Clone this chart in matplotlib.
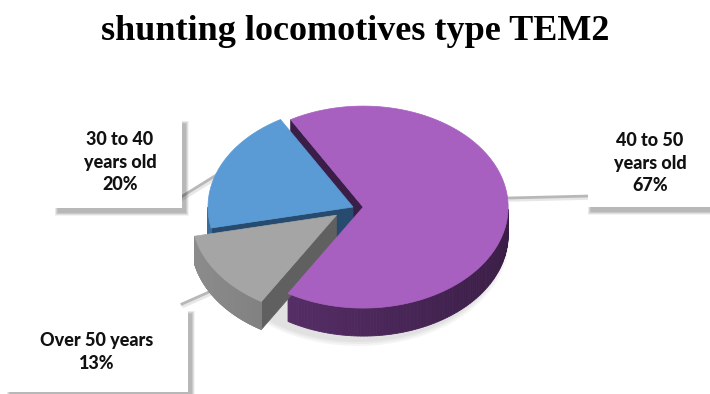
import numpy as np
import matplotlib
matplotlib.use("Agg")
import matplotlib.pyplot as plt
from matplotlib.patches import Polygon, Rectangle
from matplotlib.colors import to_rgb

# ---- data ----
categories = ["30 to 40\nyears old", "40 to 50\nyears old", "Over 50 years"]
values = [20, 67, 13]
title = "shunting locomotives type TEM2"

# ---- style ----
top_colors = ["#5B9BD5", "#A860C0", "#A5A5A5"]
side_dark = ["#264B6E", "#3B1E47", "#606060"]
side_light = ["#3A6C9A", "#5E3270", "#8C8C8C"]
explode = [0.0, 0.07, 0.14]
start_angle = 192.0  # degrees, slices go clockwise

W, H = 710, 394
fig = plt.figure(figsize=(W / 100, H / 100), dpi=100)
ax = fig.add_axes([0, 0, 1, 1])
ax.set_xlim(0, W)
ax.set_ylim(H, 0)
ax.axis("off")

cx, cy, rx, ry, depth = 353, 207, 145, 101, 28


def proj(theta_deg, r, off, dz=0.0):
    t = np.radians(theta_deg)
    return (cx + off[0] + r * np.cos(t) * rx,
            cy + off[1] - r * np.sin(t) * ry + dz)


total = float(sum(values))
wedges = []
a = start_angle
for i, v in enumerate(values):
    span = 360.0 * v / total
    a0, a1 = a - span, a  # counterclockwise from a0 to a1
    mid = np.radians((a0 + a1) / 2)
    off = (explode[i] * np.cos(mid) * rx, -explode[i] * np.sin(mid) * ry)
    wedges.append((a0, a1, off))
    a = a0


def mix(c1, c2, t):
    c1, c2 = np.array(to_rgb(c1)), np.array(to_rgb(c2))
    return tuple(c1 * (1 - t) + c2 * t)


def draw_side_faces(i):
    a0, a1, off = wedges[i]
    for ang, sign in ((a0, -1), (a1, 1)):
        t = np.radians(ang)
        n = (sign * -np.sin(t), sign * np.cos(t))
        if n[1] < 0:
            p0 = proj(ang, 0, off)
            p1 = proj(ang, 1, off)
            poly = [p0, p1, (p1[0], p1[1] + depth), (p0[0], p0[1] + depth)]
            ax.add_patch(Polygon(poly, closed=True, facecolor=side_dark[i],
                                 edgecolor=side_dark[i], lw=0.5, zorder=2))
    th = np.linspace(a0, a1, 200)
    vis = np.sin(np.radians(th)) < 0
    for k in range(len(th) - 1):
        if vis[k] and vis[k + 1]:
            q0 = proj(th[k], 1, off)
            q1 = proj(th[k + 1], 1, off)
            s = (np.cos(np.radians(th[k])) + 1) / 2
            col = mix(side_light[i], side_dark[i], s)
            poly = [q0, q1, (q1[0], q1[1] + depth), (q0[0], q0[1] + depth)]
            ax.add_patch(Polygon(poly, closed=True, facecolor=col,
                                 edgecolor=col, lw=0.6, zorder=2))


def draw_top(i):
    a0, a1, off = wedges[i]
    th = np.linspace(a0, a1, 200)
    pts = [proj(0, 0, off)] + [proj(t, 1, off) for t in th]
    ax.add_patch(Polygon(pts, closed=True, facecolor=top_colors[i],
                         edgecolor=top_colors[i], lw=0.5, zorder=3))


# subtle ground shadow
sh_t = np.linspace(0, 360, 200)
for k in range(3):
    pad = 6 - 2 * k
    xs = cx + 5 + (rx + pad) * np.cos(np.radians(sh_t))
    ys = cy + depth + 4 - (ry + pad) * np.sin(np.radians(sh_t))
    ax.fill(xs, ys, color="black", alpha=0.04, lw=0, zorder=1)

for i in [1, 0, 2]:
    draw_side_faces(i)
    draw_top(i)

# ---- leader lines ----
leaders = [((181, 197), (218, 174)), ((508, 198), (590, 196)), ((182, 304), (218, 288))]
for (p, q) in leaders:
    ax.plot([p[0] + 1.5, q[0] + 1.5], [p[1] + 2, q[1] + 2], color="#D8D8D8", lw=2.5,
            alpha=0.6, zorder=1.5, solid_capstyle="round")
    ax.plot([p[0], q[0]], [p[1], q[1]], color="#B8B8B8", lw=2.0, zorder=1.6)

# ---- label boxes ----
boxes = [(55, 120, 127, 88), (588, 120, 130, 87), (7, 310, 181, 82)]
text_pos = [(120, 162), (650, 163), (97, 352)]
for i, (bx, by, bw, bh) in enumerate(boxes):
    for k in range(7):
        g = 7 - k
        ax.add_patch(Rectangle((bx + 3 - g * 0.5, by + 4 - g * 0.5), bw + g, bh + g,
                               facecolor="black", alpha=0.045, lw=0, zorder=4))
    ax.add_patch(Rectangle((bx, by), bw, bh, facecolor="white", lw=0, zorder=5))
    pct = int(round(100 * values[i] / total))
    ax.text(text_pos[i][0], text_pos[i][1], f"{categories[i]}\n{pct}%",
            ha="center", va="center", fontsize=13, fontweight="black",
            family=["Lato", "DejaVu Sans"], linespacing=1.4, color="#111111",
            zorder=6)

fig.text(0.5, 1 - 32 / H, title, ha="center", va="center",
         family=["Liberation Serif", "DejaVu Serif"], fontweight="bold",
         fontsize=26, color="black")

fig.savefig("out.png", dpi=100)
